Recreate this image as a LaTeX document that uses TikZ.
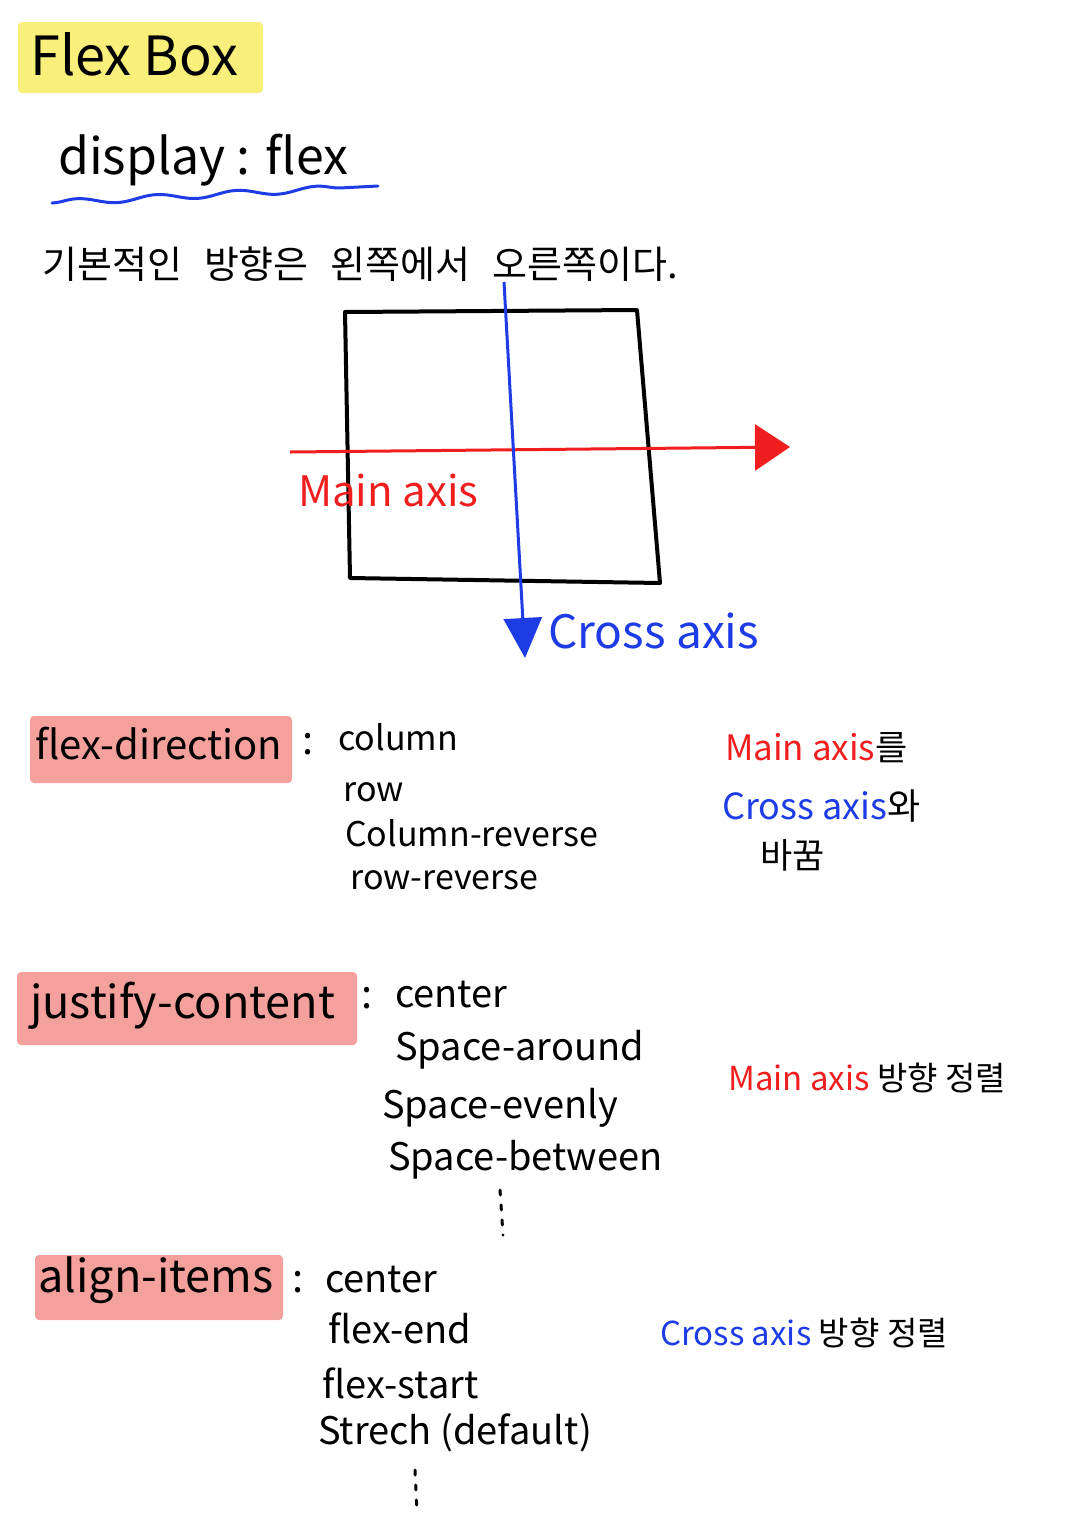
\documentclass[tikz,border=0pt]{standalone}
\usepackage{fontspec}
\setmainfont{Noto Sans CJK KR}
\usetikzlibrary{arrows.meta,decorations.pathmorphing}
\definecolor{axisred}{HTML}{F01E1E}
\definecolor{axisblue}{HTML}{1E3CE6}
\definecolor{marker}{HTML}{F8F07A}
\definecolor{pinkmarker}{HTML}{F4A09C}

\tikzset{
	head/.style={font=\fontsize{40}{46}\selectfont},
	item/.style={font=\fontsize{34}{40}\selectfont},
	bigitem/.style={font=\fontsize{38}{44}\selectfont},
	note/.style={font=\fontsize{35}{40}\selectfont},
	dots/.style={line width=3pt, line cap=round, dash pattern=on 5pt off 10pt}
}

\begin{document}
\begin{tikzpicture}[x=1pt, y=-1pt, every node/.style={inner sep=0pt, anchor=west}]
	\useasboundingbox [fill=white] (0,0) rectangle (1080,1527);

	\coordinate (mainstart) at (290,452);
	\coordinate (mainend) at (790,447);
	\coordinate (crossstart) at (504,282);
	\coordinate (crossend) at (525,658);
	\coordinate (waveleft) at (52,203);
	\coordinate (waveright) at (378,186);
	\coordinate (justifytop) at (500,1190);
	\coordinate (justifybot) at (503,1235);
	\coordinate (aligntop) at (415,1470);
	\coordinate (alignbot) at (417,1512);

	% markers behind the headings
	\fill [marker, rounded corners=4pt] (18,22) rectangle (263,93);
	\fill [pinkmarker, rounded corners=4pt] (30,716) rectangle (292,783);
	\fill [pinkmarker, rounded corners=4pt] (17,972) rectangle (357,1045);
	\fill [pinkmarker, rounded corners=4pt] (35,1255) rectangle (283,1320);

	\node [font=\fontsize{54}{60}\selectfont] (title) at (30,54) {Flex Box};

	\node [font=\fontsize{50}{56}\selectfont] (display) at (58,160) {display : flex};
	\draw [axisblue, line width=3pt, line cap=round, decorate,
		decoration={snake, amplitude=3pt, segment length=80pt}] (waveleft) -- (waveright);

	\node [font=\fontsize{38}{44}\selectfont] (basic) at (42,264)
		{기본적인\hspace{22pt}방향은\hspace{22pt}왼쪽에서\hspace{22pt}오른쪽이다.};

	% the box
	\draw [line width=4pt, line join=round] (345,312) -- (637,310) -- (660,583) -- (350,578) -- cycle;

	\draw [axisred, line width=3pt, -{Triangle[length=35pt, width=46pt]}] (mainstart) -- (mainend);
	\node [head, axisred, font=\fontsize{42}{48}\selectfont] (mainlabel) at (298,490) {Main axis};

	\draw [axisblue, line width=3pt, -{Triangle[length=40pt, width=38pt]}] (crossstart) -- (crossend);
	\node [head, axisblue, font=\fontsize{46}{52}\selectfont] (crosslabel) at (548,631) {Cross axis};

	% flex-direction
	\node [head] (direction) at (35,744) {flex-direction};
	\node [head] (colonA) at (302,744) {:};
	\node [item] (column) at (338,737) {column};
	\node [item] (row) at (343,792) {row};
	\node [item] (columnrev) at (345,833) {Column-reverse};
	\node [item] (rowrev) at (350,880) {row-reverse};

	\node [note, axisred] (swapA) at (725,748) {Main axis\textcolor{black}{를}};
	\node [note, axisblue, font=\fontsize{36}{42}\selectfont] (swapB) at (722,806) {Cross axis\textcolor{black}{와}};
	\node [note] (swapC) at (760,855) {바꿈};

	% justify-content
	\node [head, font=\fontsize{45}{50}\selectfont] (justify) at (30,1006) {justify-content};
	\node [head] (colonB) at (361,998) {:};
	\node [bigitem] (jcenter) at (395,995) {center};
	\node [bigitem] (around) at (395,1050) {Space-around};
	\node [bigitem] (evenly) at (382,1108) {Space-evenly};
	\node [bigitem] (between) at (388,1160) {Space-between};
	\draw [dots] (justifytop) -- (justifybot);

	\node [note, axisred, font=\fontsize{33}{38}\selectfont] (mainalign) at (728,1078) {Main axis \textcolor{black}{방향 정렬}};

	% align-items
	\node [head, font=\fontsize{45}{50}\selectfont] (align) at (38,1280) {align-items};
	\node [head] (colonC) at (292,1282) {:};
	\node [bigitem] (acenter) at (325,1280) {center};
	\node [bigitem] (flexend) at (328,1328) {flex-end};
	\node [bigitem] (flexstart) at (322,1383) {flex-start};
	\node [bigitem] (strech) at (318,1433) {Strech (default)};
	\draw [dots] (aligntop) -- (alignbot);

	\node [note, axisblue, font=\fontsize{33}{38}\selectfont] (crossalign) at (660,1333) {Cross axis \textcolor{black}{방향 정렬}};
\end{tikzpicture}
\end{document}
